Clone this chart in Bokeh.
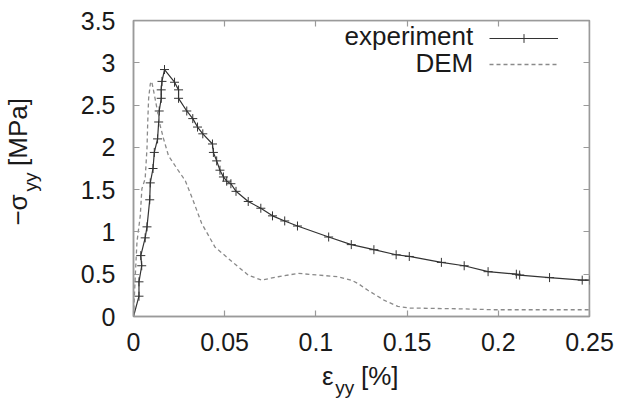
from bokeh.plotting import figure
from bokeh.models import (Range1d, LinearAxis, FixedTicker, Label, Legend, LegendItem)
from bokeh.embed import file_html
from bokeh.resources import INLINE

# ---- data ----
exp_strain = [0, 0.003, 0.003, 0.0045, 0.004, 0.0064, 0.0074, 0.0089, 0.0092, 0.0107,
              0.0114, 0.0132, 0.0138, 0.0141, 0.0152, 0.0152, 0.0156, 0.0170, 0.0225, 0.0247,
              0.0247, 0.0292, 0.0325, 0.0351, 0.0380, 0.0433, 0.0438, 0.0456, 0.0474, 0.0493,
              0.0511, 0.0534, 0.0562, 0.0629, 0.0698, 0.0762, 0.0829, 0.0899, 0.1070, 0.1194,
              0.1318, 0.1440, 0.1512, 0.1688, 0.1813, 0.1944, 0.2099, 0.2117, 0.2281, 0.2460,
              0.2500]
exp_stress = [0, 0.24, 0.41, 0.60, 0.72, 0.93, 1.06, 1.38, 1.58, 1.75,
              1.94, 2.10, 2.30, 2.43, 2.58, 2.68, 2.78, 2.92, 2.77, 2.68,
              2.58, 2.43, 2.34, 2.24, 2.16, 2.04, 1.94, 1.84, 1.73, 1.65,
              1.60, 1.57, 1.48, 1.36, 1.28, 1.19, 1.13, 1.07, 0.94, 0.85,
              0.79, 0.73, 0.71, 0.64, 0.60, 0.53, 0.50, 0.49, 0.46, 0.43,
              0.43]

dem_strain = [0, 0.0001, 0.0010, 0.0019, 0.0037, 0.0046, 0.0064, 0.0074, 0.0078, 0.0083,
              0.0092, 0.0100, 0.0119, 0.0146, 0.0165, 0.0192, 0.0238, 0.0283, 0.0320, 0.0374,
              0.0447, 0.0556, 0.0629, 0.0702, 0.0793, 0.0903, 0.1012, 0.1121, 0.1194, 0.1231,
              0.1285, 0.1376, 0.1449, 0.1512, 0.1813, 0.1977, 0.2500]
dem_stress = [0, 0.05, 0.49, 0.88, 1.19, 1.51, 1.63, 1.99, 2.30, 2.58,
              2.75, 2.78, 2.57, 2.26, 2.10, 1.90, 1.75, 1.61, 1.41, 1.10,
              0.82, 0.62, 0.49, 0.43, 0.47, 0.51, 0.49, 0.47, 0.43, 0.39,
              0.31, 0.19, 0.12, 0.10, 0.09, 0.08, 0.08]

x_ticks = [0, 0.05, 0.1, 0.15, 0.2, 0.25]
x_tick_labels = ["0", "0.05", "0.1", "0.15", "0.2", "0.25"]
y_ticks = [0, 0.5, 1, 1.5, 2, 2.5, 3, 3.5]
y_tick_labels = ["0", "0.5", "1", "1.5", "2", "2.5", "3", "3.5"]

series_names = ["experiment", "DEM"]

FONT = "Liberation Sans"
TEXT = "#1a1a1a"
AXC = "#9a9a9a"

p = figure(width=620, height=403, output_backend="svg", toolbar_location=None,
           x_range=Range1d(0, 0.25), y_range=Range1d(0, 3.5),
           min_border_left=132, min_border_right=31, min_border_top=20, min_border_bottom=87,
           x_axis_location=None, y_axis_location=None)
p.grid.visible = False
p.outline_line_color = AXC
p.outline_line_width = 1.5
p.background_fill_color = "white"
p.border_fill_color = "white"


def style_axis(ax, ticks, labels, show_labels, standoff):
    ax.ticker = FixedTicker(ticks=ticks)
    ax.major_label_overrides = {t: l for t, l in zip(ticks, labels)}
    ax.minor_tick_line_color = None
    ax.major_tick_in = 6
    ax.major_tick_out = 0
    ax.major_tick_line_color = AXC
    ax.major_tick_line_width = 1.2
    ax.axis_line_color = AXC
    ax.axis_line_width = 1.5
    ax.major_label_text_font = FONT
    ax.major_label_text_color = TEXT
    ax.major_label_text_font_size = "25px"
    ax.major_label_standoff = standoff
    if not show_labels:
        ax.major_label_text_color = None
        ax.major_label_text_alpha = 0


xb = LinearAxis(); style_axis(xb, x_ticks, x_tick_labels, True, 16)
xt = LinearAxis(fixed_location=3.5); style_axis(xt, x_ticks, x_tick_labels, False, 0)
yl = LinearAxis(); style_axis(yl, y_ticks, y_tick_labels, True, 18)
yr = LinearAxis(fixed_location=0.25); style_axis(yr, y_ticks, y_tick_labels, False, 0)
p.add_layout(xb, "below")
p.add_layout(xt, "above")
p.add_layout(yl, "left")
p.add_layout(yr, "right")


# ---- axis titles built from text pieces (with subscripts), drawn as the labels of
#      extra line-less, tick-less axes stacked in the side panels ----
def title_axis(side, ats, txts, size, standoff):
    ax = LinearAxis()
    ax.ticker = FixedTicker(ticks=ats)
    ax.major_label_overrides = {a: t for a, t in zip(ats, txts)}
    ax.axis_line_color = None
    ax.major_tick_line_color = None
    ax.minor_tick_line_color = None
    ax.major_tick_in = 0
    ax.major_tick_out = 0
    ax.major_label_text_font = FONT
    ax.major_label_text_font_size = size
    ax.major_label_text_color = TEXT
    ax.major_label_standoff = standoff
    if side == "left":
        ax.major_label_orientation = "vertical"
    p.add_layout(ax, side)


# x title: "ε" and "[%]" then subscript "yy"
title_axis("below", [0.10651, 0.13501], ["\u03b5", "[%]"], "26px", 7)
title_axis("below", [0.11586], ["yy"], "19px", -17)
# y title: subscript "yy" first (closer to the axis), then "−σ" and "[MPa]"
title_axis("left", [1.5904], ["yy"], "19px", 36)
title_axis("left", [1.2593, 2.1816], ["\u2212\u03c3", "[MPa]"], "26px", -16)

# ---- series ----
exp_line = p.line(exp_strain, exp_stress, line_color="#333333", line_width=1.2)
exp_pts = p.scatter(exp_strain, exp_stress, marker="cross", size=9,
                    line_color="#333333", line_width=1.0)
dem_line = p.line(dem_strain, dem_stress, line_color="#8a8a8a", line_width=1.3,
                  line_dash="4 3")

# ---- legend: samples via Legend, texts to their left (gnuplot style) ----
legend = Legend(items=[LegendItem(label=" ", renderers=[exp_line, exp_pts]),
                       LegendItem(label=" ", renderers=[dem_line])],
                location=(356, 241.5), padding=0, margin=0, spacing=4,
                glyph_width=69, glyph_height=22, label_height=22, label_width=1,
                label_standoff=0, label_text_font_size="1px",
                border_line_color=None, background_fill_alpha=0)
p.add_layout(legend, "center")

for name, yb in zip(series_names, [281, 254]):
    p.add_layout(Label(x=339.7, y=yb, x_units="screen", y_units="screen", text=name,
                       text_align="right", text_baseline="alphabetic",
                       text_font=FONT, text_font_size="26px", text_color=TEXT))

open("out.html", "w").write(file_html(p, INLINE))
